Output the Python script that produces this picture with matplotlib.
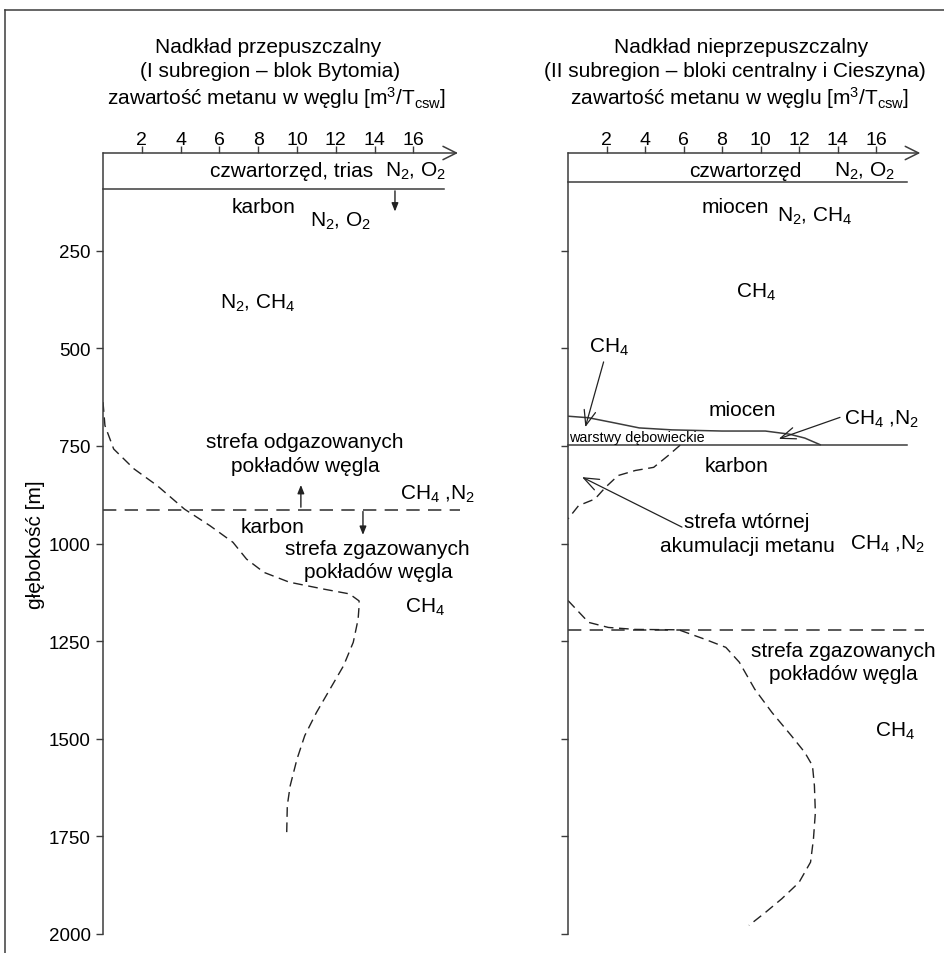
import matplotlib
matplotlib.use("Agg")
import matplotlib.pyplot as plt
from matplotlib.lines import Line2D

plt.rcParams['font.family'] = ['Liberation Sans', 'DejaVu Sans']
plt.rcParams['mathtext.fontset'] = 'custom'
plt.rcParams['mathtext.rm'] = 'Liberation Sans'
plt.rcParams['mathtext.it'] = 'Liberation Sans'

# osie
x_ticks = [2, 4, 6, 8, 10, 12, 14, 16]
y_ticks = [250, 500, 750, 1000, 1250, 1500, 1750, 2000]

# I subregion - blok Bytomia: zawartosc metanu [m3/t] vs glebokosc [m]
left_ch4 = [0, 0.1, 0.55, 1.6, 2.8, 4.2, 5.5, 6.7, 7.4, 8.3, 9.6, 11.4, 12.7, 13.2,
            13.2, 13.15, 12.9, 12.4, 11.7, 11.0, 10.4, 10.0, 9.65, 9.5, 9.47]
left_depth = [638, 698, 758, 809, 852, 912, 954, 997, 1040, 1074, 1099, 1117, 1129, 1147,
              1160, 1194, 1253, 1313, 1373, 1433, 1492, 1552, 1620, 1671, 1740]
left_quat_depth = 93      # spag czwartorzedu/triasu
left_zone_depth = 913     # granica strefy odgazowanej

# II subregion - bloki centralny i Cieszyna
right_upper_ch4 = [5.83, 5.2, 4.45, 3.5, 2.6, 1.95, 1.4, 0.55, 0]
right_upper_depth = [748, 775, 805, 813, 826, 856, 886, 903, 937]
right_lower_ch4 = [0, 1.07, 2.1, 3.5, 5.75, 7.1, 8.2, 8.9, 9.7, 10.6, 11.6, 12.3, 12.7,
                   12.8, 12.85, 12.75, 12.6, 12.0, 11.1, 10.25, 9.4]
right_lower_depth = [1146, 1202, 1215, 1220, 1221, 1245, 1266, 1304, 1373, 1433, 1492, 1535,
                     1569, 1620, 1689, 1757, 1816, 1868, 1910, 1945, 1978]
# strop warstw debowieckich
deb_x = [0, 1.07, 2.3, 3.7, 5.4, 8.0, 10.25, 11.5, 12.3, 13.1]
deb_depth = [674, 678, 690, 704, 709, 712, 712, 720, 730, 747]
right_quat_depth = 74
right_carbon_depth = 747
right_zone_depth = 1221

GRAY = '#3c3c3c'
FS = 15

fig = plt.figure(figsize=(9.44, 9.54), dpi=100)
W, H = 944, 954

# ramka (ucieta z prawej i u dolu)
fig.add_artist(Line2D([5 / W, 1], [1 - 11 / H, 1 - 11 / H], color=GRAY, lw=1.1, transform=fig.transFigure))
fig.add_artist(Line2D([5 / W, 5 / W], [1 - 11 / H, 0], color=GRAY, lw=1.1, transform=fig.transFigure))

bottom = 1 - 935 / H
height = 781 / H
ax1 = fig.add_axes([103 / W, bottom, 18.5 * 19.4 / W, height])
ax2 = fig.add_axes([568 / W, bottom, 18.5 * 19.25 / W, height])

def N(s):
    return s.replace('_2', r'$\mathregular{_2}$').replace('_4', r'$\mathregular{_4}$')

for ax, show_labels in [(ax1, True), (ax2, False)]:
    ax.set_xlim(0, 18.5)
    ax.set_ylim(2000, 0)
    for s in ['top', 'right', 'bottom']:
        ax.spines[s].set_visible(False)
    ax.spines['left'].set_color(GRAY)
    ax.spines['left'].set_linewidth(1.1)
    ax.xaxis.tick_top()
    ax.set_xticks(x_ticks)
    ax.set_yticks(y_ticks)
    ax.tick_params(axis='x', direction='out', length=5, width=1.0, color=GRAY,
                   labelsize=14, pad=-1.5, top=True, bottom=False)
    ax.tick_params(axis='y', direction='out', length=5, width=1.0, color=GRAY,
                   labelsize=13.5, pad=4, labelleft=show_labels)
    ax.patch.set_visible(False)
    # os pozioma ze strzalka
    ax.annotate('', xy=(18.3, 0), xytext=(0, 0), annotation_clip=False,
                arrowprops=dict(arrowstyle='->,head_length=0.8,head_width=0.4', lw=1.1,
                                color=GRAY, shrinkA=0, shrinkB=0, mutation_scale=12))
    ax.text(8.93, -125, r'zawartość metanu w węglu [m$\mathregular{^3}$/T$\mathregular{_{csw}}$]',
            fontsize=FS, ha='center', va='baseline', clip_on=False)

def txt(ax, x, y, s, ha='left', fs=FS):
    ax.text(x, y, N(s), fontsize=fs, ha=ha, va='baseline', clip_on=False)

def small_arrow(ax, x, y0, y1):
    ax.annotate('', xy=(x, y1), xytext=(x, y0), annotation_clip=False,
                arrowprops=dict(arrowstyle='-|>,head_length=0.5,head_width=0.2', lw=1.0,
                                color='#222222', shrinkA=0, shrinkB=0, mutation_scale=10))

def open_arrow(ax, x0, y0, x1, y1):
    ax.annotate('', xy=(x1, y1), xytext=(x0, y0), annotation_clip=False,
                arrowprops=dict(arrowstyle='->,head_length=0.9,head_width=0.35', lw=0.9,
                                color='#222222', shrinkA=0, shrinkB=0, mutation_scale=12))

# ---------------- panel lewy ----------------
ax1.plot([0, 17.6], [left_quat_depth, left_quat_depth], color=GRAY, lw=1.1, clip_on=False)
ax1.plot([0, 18.4], [left_zone_depth, left_zone_depth], color=GRAY, lw=1.2,
         linestyle=(0, (8, 5)), clip_on=False)
ax1.plot(left_ch4, left_depth, color='#222222', lw=1.0, linestyle=(0, (7, 4)))

ax1.text(8.5, -258.6, 'Nadkład przepuszczalny', fontsize=FS, ha='center', va='baseline', clip_on=False)
ax1.text(8.6, -197, '(I subregion – blok Bytomia)', fontsize=FS, ha='center', va='baseline', clip_on=False)
txt(ax1, 13.92, 59, 'czwartorzęd, trias', ha='right')
txt(ax1, 14.54, 59, 'N_2, O_2')
txt(ax1, 8.3, 151, 'karbon', ha='center')
txt(ax1, 10.67, 185, 'N_2, O_2')
small_arrow(ax1, 15.05, 97, 150)
txt(ax1, 6.03, 395, 'N_2, CH_4')
txt(ax1, 10.41, 753, 'strefa odgazowanych', ha='center')
txt(ax1, 10.41, 815, 'pokładów węgla', ha='center')
small_arrow(ax1, 10.2, 907, 850)
txt(ax1, 15.3, 886, 'CH_4 ,N_2')
txt(ax1, 8.76, 971, 'karbon', ha='center')
small_arrow(ax1, 13.4, 918, 978)
txt(ax1, 9.38, 1027, 'strefa zgazowanych')
txt(ax1, 14.18, 1086, 'pokładów węgla', ha='center')
txt(ax1, 15.57, 1175, 'CH_4')
ax1.text(-3.5, 1001, 'głębokość [m]', fontsize=FS, rotation=90, ha='center', va='center', clip_on=False)

# ---------------- panel prawy ----------------
ax2.plot([0, 17.6], [right_quat_depth, right_quat_depth], color=GRAY, lw=1.1, clip_on=False)
ax2.plot([0, 17.6], [right_carbon_depth, right_carbon_depth], color=GRAY, lw=1.1, clip_on=False)
ax2.plot(deb_x, deb_depth, color=GRAY, lw=1.1)
ax2.plot([0, 18.5], [right_zone_depth, right_zone_depth], color=GRAY, lw=1.2,
         linestyle=(0, (8, 5)), clip_on=False)
ax2.plot(right_upper_ch4, right_upper_depth, color='#222222', lw=1.0, linestyle=(0, (7, 4)))
ax2.plot(right_lower_ch4, right_lower_depth, color='#222222', lw=1.0, linestyle=(0, (7, 4)))

ax2.text(9.0, -258.6, 'Nadkład nieprzepuszczalny', fontsize=FS, ha='center', va='baseline', clip_on=False)
ax2.text(8.68, -197, '(II subregion – bloki centralny i Cieszyna)', fontsize=FS, ha='center',
         va='baseline', clip_on=False)
txt(ax2, 9.2, 59, 'czwartorzęd', ha='center')
txt(ax2, 13.8, 59, 'N_2, O_2')
txt(ax2, 8.7, 151, 'miocen', ha='center')
txt(ax2, 10.85, 174, 'N_2, CH_4')
txt(ax2, 8.73, 369, 'CH_4')
txt(ax2, 1.07, 510, 'CH_4')
open_arrow(ax2, 1.85, 535, 0.9, 702)
txt(ax2, 9.05, 670, 'miocen', ha='center')
txt(ax2, 14.32, 694, 'CH_4 ,N_2')
open_arrow(ax2, 14.13, 677, 10.95, 732)
txt(ax2, 0.05, 737, 'warstwy dębowieckie', fs=10.4)
txt(ax2, 8.77, 814, 'karbon', ha='center')
txt(ax2, 9.3, 958, 'strefa wtórnej', ha='center')
txt(ax2, 9.3, 1018, 'akumulacji metanu', ha='center')
open_arrow(ax2, 5.92, 958, 0.73, 830)
txt(ax2, 14.67, 1014, 'CH_4 ,N_2')
txt(ax2, 14.32, 1287, 'strefa zgazowanych', ha='center')
txt(ax2, 14.32, 1347, 'pokładów węgla', ha='center')
txt(ax2, 15.97, 1492, 'CH_4')

fig.savefig('out.png', dpi=100)
